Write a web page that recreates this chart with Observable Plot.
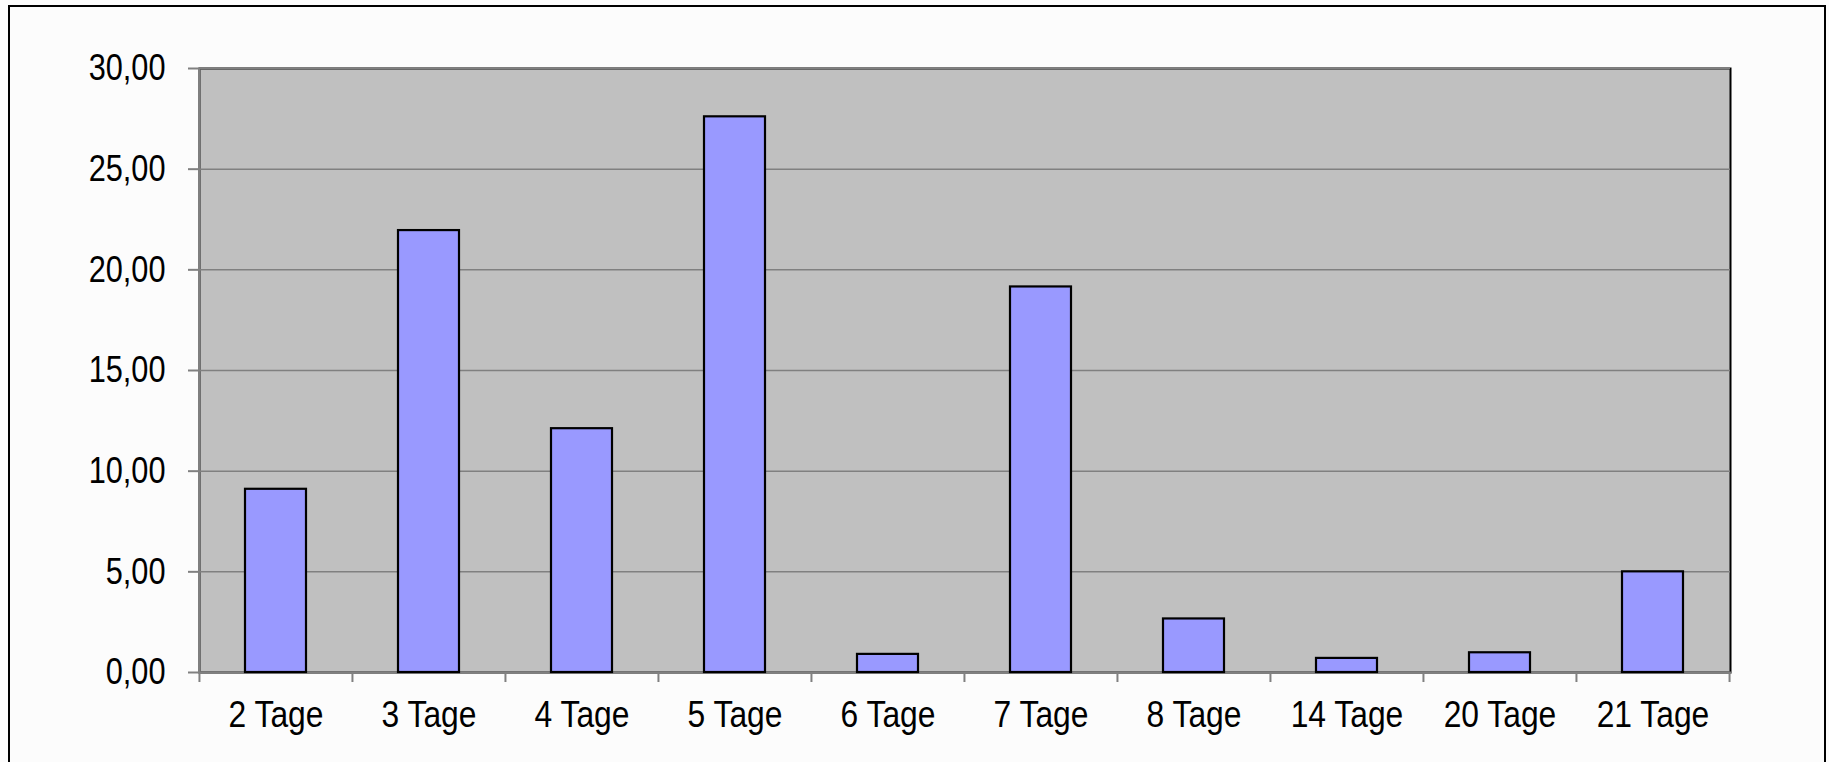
<!DOCTYPE html>
<html>
<head>
<meta charset="utf-8">
<script src="https://cdn.jsdelivr.net/npm/d3@7"></script>
<script src="https://cdn.jsdelivr.net/npm/@observablehq/plot@0.6"></script>
<style>
  html, body { margin: 0; padding: 0; background: #fcfcfc; overflow: hidden; }
  #wrap { position: relative; width: 1829px; height: 762px; }
  #border { position: absolute; left: 8px; top: 5px; width: 1814px; height: 900px; border: 2px solid #000; box-sizing: content-box; }
  #chart { position: absolute; left: 0; top: 0; }
</style>
</head>
<body>
<div id="wrap"><div id="border"></div><div id="chart"></div></div>
<script>
const categories = ["2 Tage", "3 Tage", "4 Tage", "5 Tage", "6 Tage", "7 Tage", "8 Tage", "14 Tage", "20 Tage", "21 Tage"];
const values = [9.10, 21.95, 12.11, 27.60, 0.90, 19.15, 2.66, 0.70, 0.98, 5.00];
const yTicks = [0, 5, 10, 15, 20, 25, 30];

const data = categories.map((c, i) => ({category: c, value: values[i]}));

const width = 1829, height = 762;
const marginLeft = 199, marginRight = 99, marginTop = 68, marginBottom = 90;
const step = (width - marginLeft - marginRight) / categories.length;
const fmt = d => d.toFixed(2).replace(".", ",");
const font = '"Liberation Sans Narrow", "Arial Narrow", "Liberation Sans", Arial, sans-serif';

const chart = Plot.plot({
  width, height, marginLeft, marginRight, marginTop, marginBottom,
  style: {background: "transparent", fontFamily: font, fontSize: "37px", overflow: "visible"},
  x: {domain: categories, paddingInner: 0.6, paddingOuter: 0.3, label: null},
  y: {domain: [0, 30], label: null},
  marks: [
    Plot.frame({fill: "#c0c0c0", stroke: "black", strokeWidth: 2}),
    Plot.gridY(yTicks, {stroke: "#808080", strokeOpacity: 1, strokeWidth: 1.5}),
    Plot.frame({anchor: "left", stroke: "#808080", strokeWidth: 2}),
    Plot.frame({anchor: "bottom", stroke: "#808080", strokeWidth: 2}),
    Plot.barY(data, {x: "category", y: "value", fill: "#9999ff", stroke: "black", strokeWidth: 2.2}),
    Plot.axisY(yTicks, {tickSize: 11, tickPadding: 23, tickFormat: fmt, stroke: "#808080", strokeWidth: 2, fill: "black", fontSize: 37, label: null}),
    Plot.axisX({tickSize: 0, tickPadding: 28, fill: "black", fontSize: 37, label: null}),
    Plot.axisX(categories, {tickSize: 10, tickFormat: () => "", dx: -step / 2, stroke: "#808080", strokeWidth: 2, label: null}),
    Plot.axisX([categories[categories.length - 1]], {tickSize: 10, tickFormat: () => "", dx: step / 2, stroke: "#808080", strokeWidth: 2, label: null})
  ]
});
document.getElementById("chart").appendChild(chart);

// Condense the tick labels horizontally (the original uses a narrow typeface):
// wrap each label in a group scaled about its anchor point.
function condense(selector, anchor, k) {
  chart.querySelectorAll(selector).forEach(t => {
    if (!t.textContent) return;
    const r = t.getBoundingClientRect();
    const ax = anchor === "end" ? r.right : (r.left + r.right) / 2;
    const g = document.createElementNS("http://www.w3.org/2000/svg", "g");
    t.parentNode.insertBefore(g, t);
    g.appendChild(t);
    const m = g.getScreenCTM();
    const lx = (ax - m.e) / m.a;
    g.setAttribute("transform", `translate(${lx},0) scale(${k},1) translate(${-lx},0)`);
  });
}
condense('g[aria-label="y-axis tick label"] text', "end", 0.83);
condense('g[aria-label="x-axis tick label"] text', "middle", 0.86);
</script>
</body>
</html>
